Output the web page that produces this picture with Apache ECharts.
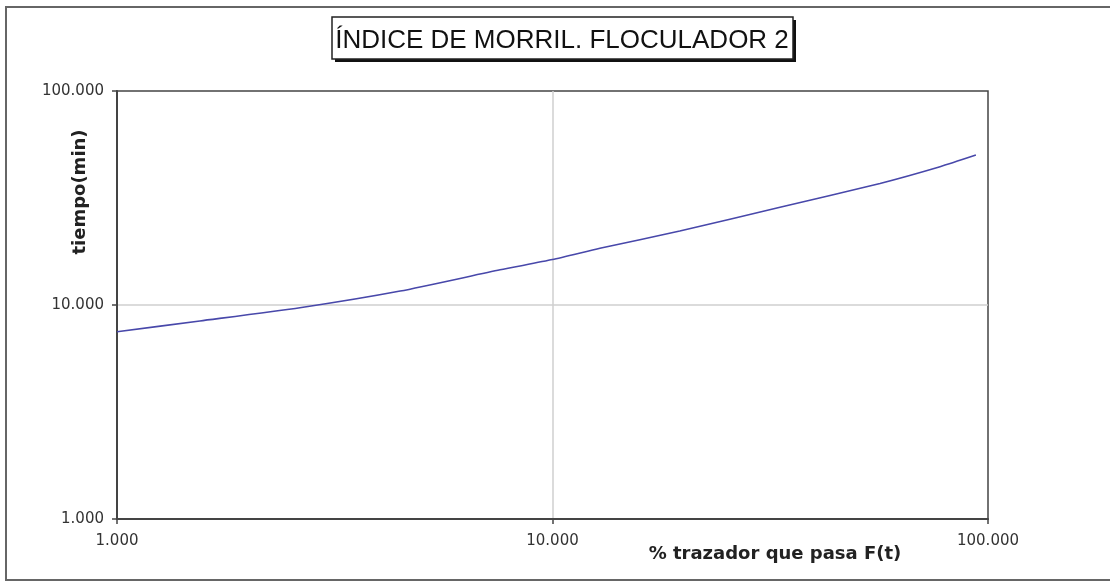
<!DOCTYPE html>
<html>
<head>
<meta charset="utf-8">
<title>Índice de Morril - Floculador 2</title>
<script src="https://cdn.jsdelivr.net/npm/echarts@6/dist/echarts.min.js"></script>
<style>
  html, body { margin: 0; padding: 0; background: #fff; }
  #chart { width: 1110px; height: 582px; }
</style>
</head>
<body>
<div id="chart"></div>
<script>
// % trazador que pasa F(t) vs tiempo (min)
const porcentaje = [1, 1.55, 2.63, 4.47, 7.58, 10, 12.85, 19.6, 33.3, 56.5, 77.6, 93.8]
const tiempo = [7.5, 8.42, 9.71, 11.62, 14.6, 16.3, 18.4, 22.17, 28.6, 37.0, 44.3, 50.2]
const tickLabels = ['1.000', '10.000', '100.000']

const titulo = 'ÍNDICE DE MORRIL. FLOCULADOR 2'
const nombreX = '% trazador que pasa F(t)'
const nombreY = 'tiempo(min)'

const fmt = (v) => tickLabels[Math.round(Math.log10(v))]

const axisColor = '#444'
const labelStyle = {
  color: '#333',
  fontFamily: 'DejaVu Sans',
  fontSize: 15,
  formatter: fmt,
}

const charts = echarts.init(document.getElementById('chart'))
charts.setOption({
  backgroundColor: '#fff',
  animation: false,
  grid: {
    left: 117,
    right: 122,
    top: 91,
    bottom: 63,
    show: true,
    borderColor: axisColor,
    borderWidth: 1.5,
    outerBoundsMode: 'none',
  },
  xAxis: {
    type: 'log',
    logBase: 10,
    min: 1,
    max: 100,
    axisLine: { lineStyle: { color: axisColor, width: 2 } },
    axisTick: { length: 5, lineStyle: { color: axisColor, width: 1.5 } },
    axisLabel: { ...labelStyle, margin: 15 },
    splitLine: {
      show: true,
      showMinLine: false,
      showMaxLine: false,
      lineStyle: { color: '#cfcfcf', width: 1.5 },
    },
  },
  yAxis: {
    type: 'log',
    logBase: 10,
    min: 1,
    max: 100,
    axisLine: { lineStyle: { color: axisColor, width: 2 } },
    axisTick: { length: 5, lineStyle: { color: axisColor, width: 1.5 } },
    axisLabel: { ...labelStyle, margin: 13 },
    splitLine: {
      show: true,
      showMinLine: false,
      showMaxLine: false,
      lineStyle: { color: '#cfcfcf', width: 1.5 },
    },
  },
  series: [
    {
      type: 'line',
      data: porcentaje.map((v, i) => [v, tiempo[i]]),
      smooth: 0.2,
      showSymbol: false,
      lineStyle: { color: '#4848aa', width: 1.6 },
    },
  ],
  graphic: [
    {
      // outer chart frame, open on the right like the original
      type: 'rect',
      shape: { x: 6, y: 7, width: 1200, height: 573 },
      style: { fill: 'none', stroke: '#666', lineWidth: 2 },
      silent: true,
    },
    {
      // title box shadow
      type: 'rect',
      shape: { x: 335, y: 20, width: 461, height: 42 },
      style: { fill: '#111' },
      silent: true,
    },
    {
      type: 'rect',
      shape: { x: 332, y: 17, width: 461, height: 42 },
      style: { fill: '#fff', stroke: '#222', lineWidth: 1.5 },
      silent: true,
    },
    {
      type: 'text',
      x: 562,
      y: 41,
      style: {
        text: titulo,
        fill: '#111',
        font: '26px "Liberation Sans", Arial, sans-serif',
        align: 'center',
        verticalAlign: 'middle',
      },
    },
    {
      type: 'text',
      x: 775,
      y: 554,
      style: {
        text: nombreX,
        fill: '#222',
        font: 'bold 18px "DejaVu Sans", sans-serif',
        align: 'center',
        verticalAlign: 'middle',
      },
    },
    {
      type: 'text',
      x: 80,
      y: 192,
      rotation: Math.PI / 2,
      style: {
        text: nombreY,
        fill: '#222',
        font: 'bold 18px "DejaVu Sans", sans-serif',
        align: 'center',
        verticalAlign: 'middle',
      },
    },
  ],
})
</script>
</body>
</html>
